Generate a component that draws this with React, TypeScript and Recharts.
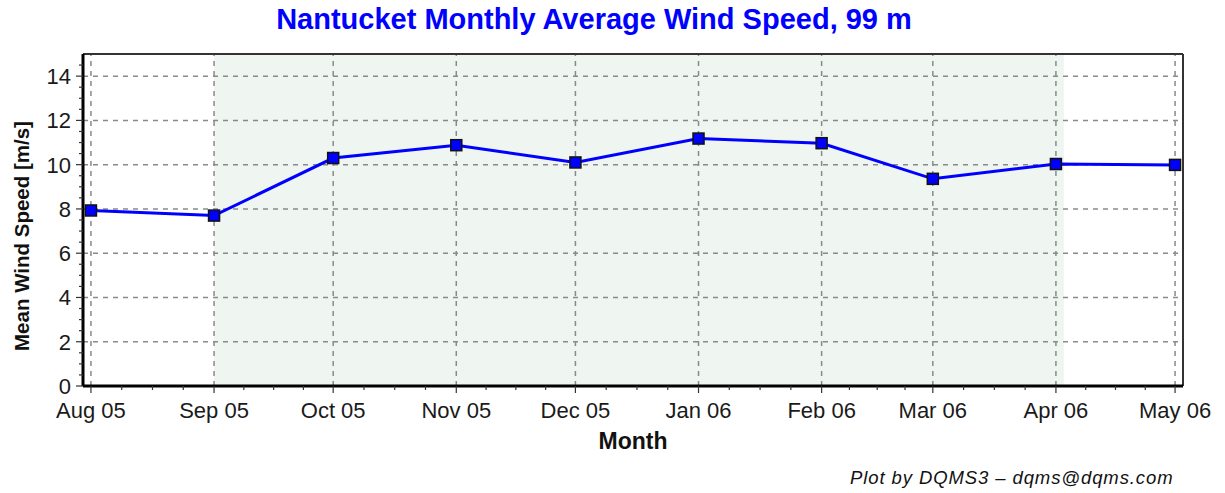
import React from "react";
import {
  LineChart,
  Line,
  XAxis,
  YAxis,
  ReferenceLine,
  ReferenceArea,
} from "recharts";

// ---- data ----
const monthDates = [
  "2005-08-01",
  "2005-09-01",
  "2005-10-01",
  "2005-11-01",
  "2005-12-01",
  "2006-01-01",
  "2006-02-01",
  "2006-03-01",
  "2006-04-01",
  "2006-05-01",
];
const monthLabels = [
  "Aug 05",
  "Sep 05",
  "Oct 05",
  "Nov 05",
  "Dec 05",
  "Jan 06",
  "Feb 06",
  "Mar 06",
  "Apr 06",
  "May 06",
];
const windSpeed = [7.93, 7.7, 10.3, 10.88, 10.1, 11.18, 10.97, 9.36, 10.03, 9.99];
const yMajorTicks = [0, 2, 4, 6, 8, 10, 12, 14];

const DAY = 86400000;
const t0 = Date.parse(monthDates[0]);
const dayOf = (d: string) => Math.round((Date.parse(d) - t0) / DAY);
const monthDays = monthDates.map(dayOf);

const data = monthDays.map((x, i) => ({ x, label: monthLabels[i], speed: windSpeed[i] }));

// minor ticks: 3 per month interval
const xMinor: number[] = [];
for (let i = 0; i < monthDays.length - 1; i++) {
  const a = monthDays[i];
  const b = monthDays[i + 1];
  for (let k = 1; k < 4; k++) xMinor.push(a + ((b - a) * k) / 4);
}
const xTicks = [...monthDays, ...xMinor].sort((a, b) => a - b);
const yTicks: number[] = [];
for (let v = 0; v <= 14.5; v += 0.5) yTicks.push(v);

const X_DOMAIN: [number, number] = [-2, 275];
const Y_DOMAIN: [number, number] = [0, 15];

const FONT = "'Liberation Sans', Arial, Helvetica, sans-serif";

const XTick = (props: any) => {
  const { x, y, payload } = props;
  const idx = monthDays.indexOf(payload.value);
  const major = idx >= 0;
  return (
    <g>
      <line x1={x} x2={x} y1={y} y2={y + (major ? 7 : 4)} stroke="#333" strokeWidth={1.2} />
      {major && (
        <text
          x={x}
          y={y + 32}
          textAnchor="middle"
          fontSize={22}
          fontFamily={FONT}
          fill="#1a1a1a"
        >
          {monthLabels[idx]}
        </text>
      )}
    </g>
  );
};

const YTick = (props: any) => {
  const { x, y, payload } = props;
  const major = yMajorTicks.includes(payload.value);
  return (
    <g>
      <line x1={x} x2={x - (major ? 7 : 4)} y1={y} y2={y} stroke="#333" strokeWidth={1.2} />
      {major && (
        <text
          x={x - 12}
          y={y + 8}
          textAnchor="end"
          fontSize={22}
          fontFamily={FONT}
          fill="#1a1a1a"
        >
          {payload.value}
        </text>
      )}
    </g>
  );
};

const SquareDot = (props: any) => {
  const { cx, cy } = props;
  if (cx == null || cy == null) return null;
  const s = 11;
  return (
    <rect
      x={cx - s / 2}
      y={cy - s / 2}
      width={s}
      height={s}
      fill="#0000ff"
      stroke="#111"
      strokeWidth={1.5}
    />
  );
};

export default function App() {
  return (
    <div
      style={{
        position: "absolute",
        left: 0,
        top: 0,
        width: 1225,
        height: 493,
        background: "#fff",
        fontFamily: FONT,
      }}
    >
      <div
        style={{
          position: "absolute",
          left: 0,
          width: 1188,
          top: 3,
          textAlign: "center",
          color: "#0000ff",
          fontSize: 29,
          fontWeight: "bold",
          fontFamily: FONT,
        }}
      >
        Nantucket Monthly Average Wind Speed, 99 m
      </div>
      <LineChart
        width={1225}
        height={493}
        data={data}
        margin={{ top: 54, right: 42, left: 43, bottom: 47 }}
      >
        <XAxis
          dataKey="x"
          type="number"
          domain={X_DOMAIN}
          ticks={xTicks}
          interval={0}
          allowDataOverflow
          tickSize={0}
          tickMargin={0}
          tickLine={false}
          tick={<XTick />}
          axisLine={{ stroke: "#000", strokeWidth: 3 }}
          height={60}
          label={{
            value: "Month",
            position: "insideBottom",
            offset: -3,
            style: { fontSize: 23, fontWeight: "bold", fill: "#111", fontFamily: FONT },
          }}
        />
        <YAxis
          type="number"
          domain={Y_DOMAIN}
          ticks={yTicks}
          interval={0}
          allowDataOverflow
          tickSize={0}
          tickMargin={0}
          tickLine={false}
          tick={<YTick />}
          axisLine={{ stroke: "#000", strokeWidth: 3 }}
          width={40}
        />
        {/* faint watermark */}
        <ReferenceArea
          x1={monthDays[1]}
          x2={monthDays[8] + 2}
          y1={0}
          y2={15}
          fill="#eff5f1"
          fillOpacity={1}
          stroke="none"
          ifOverflow="hidden"
        />
        {/* grid */}
        {monthDays.map((d) => (
          <ReferenceLine
            key={"v" + d}
            x={d}
            stroke="#8a8a8a"
            strokeWidth={1.5}
            strokeDasharray="5 5"
          />
        ))}
        {yMajorTicks
          .filter((v) => v > 0)
          .map((v) => (
            <ReferenceLine
              key={"h" + v}
              y={v}
              stroke="#8a8a8a"
              strokeWidth={1.5}
              strokeDasharray="5 5"
            />
          ))}
        {/* frame top/right */}
        <ReferenceLine y={15} stroke="#333" strokeWidth={2} />
        <ReferenceLine x={275} stroke="#333" strokeWidth={2} />
        <Line
          type="linear"
          dataKey="speed"
          stroke="#0000ff"
          strokeWidth={3}
          dot={<SquareDot />}
          activeDot={false}
          isAnimationActive={false}
        />
      </LineChart>
      <div
        style={{
          position: "absolute",
          left: 22,
          top: 236,
          transform: "translate(-50%, -50%) rotate(-90deg)",
          fontSize: 20.5,
          fontWeight: "bold",
          color: "#111",
          fontFamily: FONT,
          whiteSpace: "nowrap",
        }}
      >
        Mean Wind Speed [m/s]
      </div>
      <div
        style={{
          position: "absolute",
          left: 850,
          top: 467,
          fontSize: 18.5,
          letterSpacing: 0.9,
          fontStyle: "italic",
          color: "#111",
          fontFamily: FONT,
          whiteSpace: "nowrap",
        }}
      >
        Plot by DQMS3 – dqms@dqms.com
      </div>
    </div>
  );
}
